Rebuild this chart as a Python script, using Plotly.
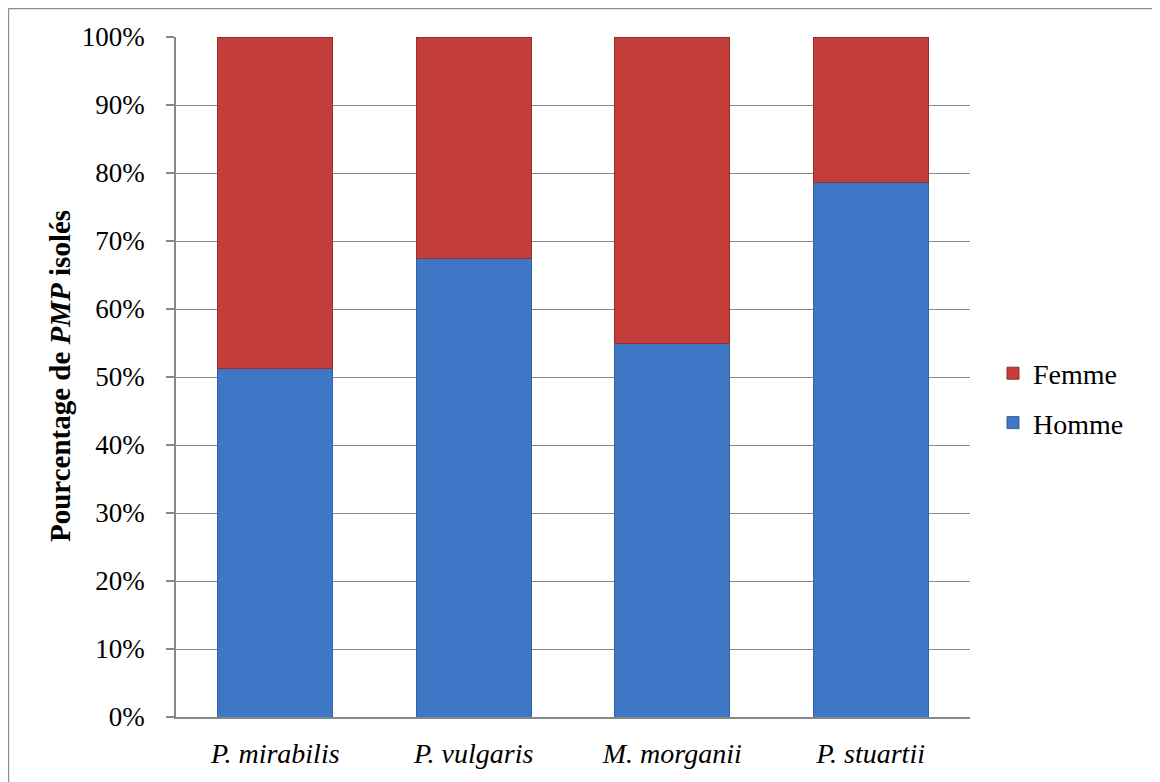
import plotly.graph_objects as go

categories = ["<i>P. mirabilis</i>", "<i>P. vulgaris</i>", "<i>M. morganii</i>", "<i>P. stuartii</i>"]
homme = [51.3, 67.4, 55.0, 78.6]
femme = [48.7, 32.6, 45.0, 21.4]
tick_vals = [0, 10, 20, 30, 40, 50, 60, 70, 80, 90, 100]
tick_text = [f"{v}%" for v in tick_vals]

FONT = "Liberation Serif, Times New Roman, serif"

fig = go.Figure()
fig.add_trace(go.Bar(
    x=categories, y=homme, name="Homme", legendgroup="h", legendrank=2,
    marker=dict(color="#3d77c6", line=dict(color="#34649f", width=1)),
))
fig.add_trace(go.Bar(
    x=categories, y=femme, name="Femme", legendgroup="f", legendrank=1,
    marker=dict(color="#c33e3a", line=dict(color="#952f2c", width=1)),
))

# the page body has an 8px margin; the figure is placed at (8, 8)
W, H = 1152, 774
L, R, T, B = 168, 190, 29, 65
pw, ph = W - L - R, H - T - B

fig.update_layout(
    width=W, height=H,
    barmode="stack", bargap=0.42,
    margin=dict(l=L, r=R, t=T, b=B, autoexpand=False),
    paper_bgcolor="white", plot_bgcolor="white",
    font=dict(family=FONT, size=28, color="black"),
    showlegend=True,
    legend=dict(
        traceorder="grouped",
        x=(985 - L) / pw, xanchor="left",
        y=(H - B - 390) / ph, yanchor="middle",
        font=dict(family=FONT, size=28, color="black"),
        bgcolor="rgba(0,0,0,0)", itemwidth=30, tracegroupgap=10,
    ),
    xaxis=dict(
        showgrid=False, showline=True, linecolor="#878787", linewidth=1.5,
        ticks="", tickfont=dict(family=FONT, size=28),
        ticklabelstandoff=11,
    ),
    yaxis=dict(
        range=[0, 100], tickvals=tick_vals, ticktext=tick_text,
        showgrid=True, gridcolor="#8a8a8a", gridwidth=1.4,
        showline=True, linecolor="#878787", linewidth=1.5,
        ticks="outside", ticklen=8, tickcolor="#878787", tickwidth=1.5,
        tickfont=dict(family=FONT, size=27),
        ticklabelstandoff=16, zeroline=False,
    ),
    annotations=[dict(
        text="<b>Pourcentage de <i>PMP</i> isolés</b>",
        xref="paper", yref="paper",
        x=(52 - L) / pw, y=(H - B - 368) / ph, xanchor="center", yanchor="middle",
        textangle=-90, showarrow=False,
        font=dict(family=FONT, size=29, color="black"),
    )],
    shapes=[
        dict(type="line", xref="paper", yref="paper",
             x0=(0.5 - L) / pw, x1=(W - L) / pw,
             y0=(H - B - 0.5) / ph, y1=(H - B - 0.5) / ph,
             line=dict(color="#8c8c8c", width=1.3)),
        dict(type="line", xref="paper", yref="paper",
             x0=(0.5 - L) / pw, x1=(0.5 - L) / pw,
             y0=(H - B - 0.5) / ph, y1=(H - B - H) / ph,
             line=dict(color="#8c8c8c", width=1.3)),
    ],
)

fig.write_html("out.html")
